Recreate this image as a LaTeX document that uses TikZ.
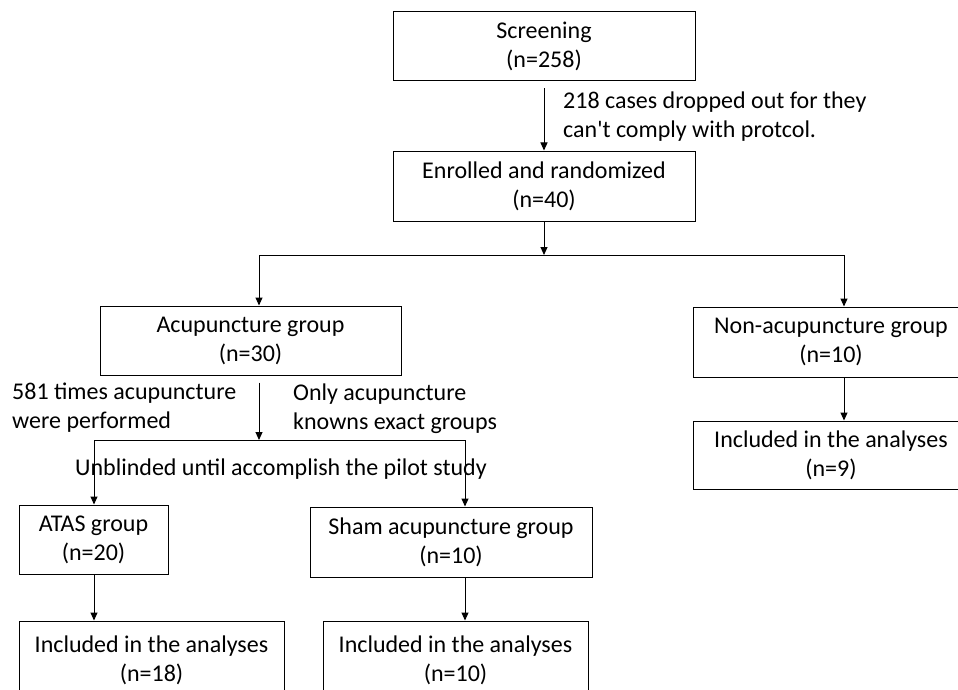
\documentclass[tikz,border=0pt]{standalone}
\usepackage{fontspec}
\setmainfont{Carlito}[Ligatures=TeXOff]
\usetikzlibrary{arrows.meta}
\begin{document}
\begin{tikzpicture}[x=1pt,y=-1pt,
  box/.style={draw,line width=1pt,inner sep=0pt,align=center,font=\fontsize{24}{29}\selectfont},
  lbl/.style={inner sep=0pt,align=left,anchor=west,font=\fontsize{24}{29}\selectfont},
  arr/.style={line width=1pt,-{Triangle[length=8pt,width=7pt]}},
  ln/.style={line width=1pt}]
\useasboundingbox (0,0) rectangle (958,690);
\clip (0,0) rectangle (958,690);
\fill[white] (0,0) rectangle (958,690);
% boxes
\node[box,minimum width=302pt,minimum height=69pt] (scr) at (544,46.5) {Screening\\(n=258)};
\node[box,minimum width=302pt,minimum height=70pt] (enr) at (544,186) {Enrolled and randomized\\(n=40)};
\node[box,minimum width=301pt,minimum height=69pt] (acu) at (250.5,340.5) {Acupuncture group\\(n=30)};
\node[box,minimum width=276pt,minimum height=70pt] (non) at (831,342) {Non-acupuncture group\\(n=10)};
\node[box,minimum width=276pt,minimum height=68pt] (noninc) at (831,455) {Included in the analyses\\(n=9)};
\node[box,minimum width=149pt,minimum height=69pt] (atas) at (93.5,539.5) {ATAS group\\(n=20)};
\node[box,minimum width=282pt,minimum height=70pt] (sham) at (451,542) {Sham acupuncture group\\(n=10)};
\node[box,minimum width=265pt,minimum height=78pt] (atasinc) at (151.5,660) {Included in the analyses\\(n=18)};
\node[box,minimum width=265pt,minimum height=78pt] (shaminc) at (455.5,660) {Included in the analyses\\(n=10)};
% labels
\node[lbl] (l1) at (563,117) {218 cases dropped out for they\\can't comply with protcol.};
\node[lbl] (l2) at (12,408) {581 times acupuncture\\were performed};
\node[lbl] (l3) at (293,409) {Only acupuncture\\knowns exact groups};
\node[inner sep=0pt,font=\fontsize{24}{29}\selectfont] (l4) at (281,469) {Unblinded until accomplish the pilot study};
% junctions
\coordinate (j1) at (544,255);
\coordinate (j1l) at (259,255);
\coordinate (j1r) at (844,255);
\coordinate (j2) at (259,440);
\coordinate (j2l) at (94,440);
\coordinate (j2r) at (465,440);
% connectors
\draw[arr,shorten <=7pt] (scr.south) -- (enr.north);
\draw[arr] (enr.south) -- (j1);
\draw[ln] (j1l) -- (j1r);
\draw[arr] (j1l) -- (j1l |- acu.north);
\draw[arr] (j1r) -- (j1r |- non.north);
\draw[arr] (j1r |- non.south) -- (j1r |- noninc.north);
\draw[arr,shorten <=7pt] (j2 |- acu.south) -- (j2);
\draw[ln] (j2l) -- (j2r);
\draw[arr] (j2l) -- (j2l |- atas.north);
\draw[arr] (j2r) -- (j2r |- sham.north);
\draw[arr] (j2l |- atas.south) -- (j2l |- atasinc.north);
\draw[arr] (j2r |- sham.south) -- (j2r |- shaminc.north);
\end{tikzpicture}
\end{document}
